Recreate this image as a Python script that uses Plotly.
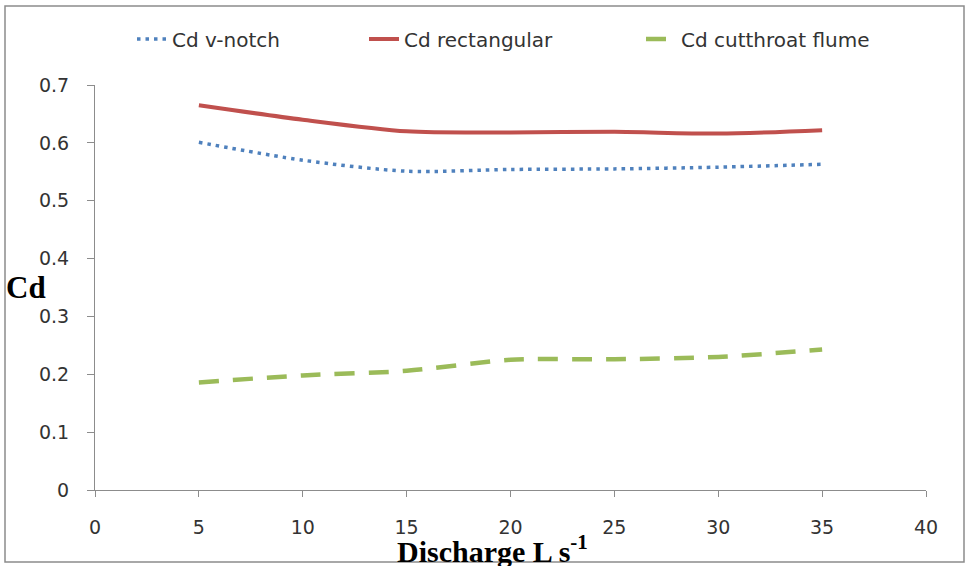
import plotly.graph_objects as go

discharge = [5, 10, 15, 20, 25, 30, 35]
cd_vnotch = [0.601, 0.570, 0.551, 0.554, 0.555, 0.558, 0.563]
cd_rect = [0.665, 0.640, 0.620, 0.618, 0.619, 0.616, 0.622]
cd_flume = [0.186, 0.198, 0.206, 0.225, 0.226, 0.230, 0.243]
x_ticks = [0, 5, 10, 15, 20, 25, 30, 35, 40]
y_ticks = [0, 0.1, 0.2, 0.3, 0.4, 0.5, 0.6, 0.7]
y_ticktext = ["0", "0.1", "0.2", "0.3", "0.4", "0.5", "0.6", "0.7"]

W, H = 966, 566
L, R, T, B = 95, 926, 85, 490

def px2x(p):
    return (p - L) / (R - L)

def py2y(p):
    return (B - p) / (B - T)

FONT = "DejaVu Sans"
TXT = "#333333"

fig = go.Figure()
fig.add_trace(go.Scatter(x=discharge, y=cd_vnotch, mode="lines", name="Cd v-notch", legend="legend",
                         line=dict(color="#4F81BD", width=3.5, dash="3.5px,5px", shape="spline", smoothing=0.8)))
fig.add_trace(go.Scatter(x=discharge, y=cd_rect, mode="lines", name="Cd rectangular", legend="legend2",
                         line=dict(color="#C0504D", width=4, shape="spline", smoothing=0.8)))
fig.add_trace(go.Scatter(x=discharge, y=cd_flume, mode="lines", name="Cd cutthroat flume", legend="legend3",
                         line=dict(color="#9BBB59", width=4.5, dash="20px,14px", shape="spline", smoothing=0.8)))

fig.add_shape(type="rect", xref="paper", yref="paper",
              x0=px2x(5), x1=px2x(964), y0=py2y(562), y1=py2y(6),
              line=dict(color="#8c8c8c", width=1.5), fillcolor="rgba(0,0,0,0)", layer="below")

fig.add_annotation(text="<b>Cd</b>", xref="paper", yref="paper", x=px2x(4), y=py2y(287),
                   xanchor="left", yanchor="middle", showarrow=False,
                   font=dict(family="Liberation Serif", size=31, color="black"))
fig.add_annotation(text="<b>Discharge L s<sup>-1</sup></b>", xref="paper", yref="paper",
                   x=px2x(492), y=py2y(549), xanchor="center", yanchor="middle", showarrow=False,
                   font=dict(family="Liberation Serif", size=30, color="black"))

leg_common = dict(orientation="h", yanchor="middle", xanchor="left",
                  font=dict(family=FONT, size=20, color=TXT), bgcolor="rgba(0,0,0,0)")

fig.update_layout(
    width=W, height=H,
    margin=dict(l=L, r=W - R, t=T, b=H - B),
    paper_bgcolor="white", plot_bgcolor="white",
    font=dict(family=FONT, size=19, color=TXT),
    showlegend=True,
    legend=dict(x=px2x(132), y=py2y(39), **leg_common),
    legend2=dict(x=px2x(364), y=py2y(39), **leg_common),
    legend3=dict(x=px2x(641), y=py2y(39), **leg_common),
    xaxis=dict(range=[0, 40], tickvals=x_ticks, showgrid=False, zeroline=False,
               showline=True, linecolor="#8c8c8c", linewidth=1,
               ticks="outside", ticklen=6, tickcolor="#8c8c8c", ticklabelstandoff=14,
               tickfont=dict(family=FONT, size=19, color=TXT)),
    yaxis=dict(range=[0, 0.7], tickvals=y_ticks, ticktext=y_ticktext,
               showgrid=False, zeroline=False,
               showline=True, linecolor="#8c8c8c", linewidth=1,
               ticks="outside", ticklen=7, tickcolor="#8c8c8c", ticklabelstandoff=14,
               tickfont=dict(family=FONT, size=19, color=TXT)),
)

fig.write_html("out.html", config={"displayModeBar": False},
               post_script="document.body.style.margin='0';document.body.style.overflow='hidden';")
